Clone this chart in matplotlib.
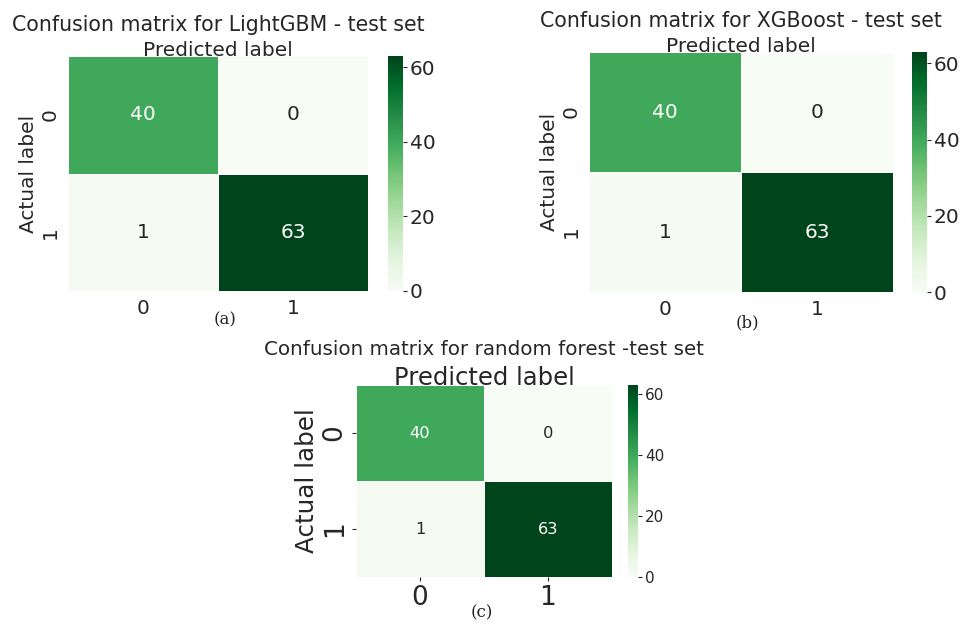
import numpy as np
import matplotlib
matplotlib.use("Agg")
import matplotlib.pyplot as plt
import seaborn as sns

# confusion matrices on the test set (rows: actual, cols: predicted)
class_labels = ["0", "1"]
cm_lightgbm = [[40, 0], [1, 63]]
cm_xgboost = [[40, 0], [1, 63]]
cm_forest = [[40, 0], [1, 63]]

titles = [
    "Confusion matrix for LightGBM - test set",
    "Confusion matrix for XGBoost - test set",
    "Confusion matrix for random forest -test set",
]
panel_tags = ["(a)", "(b)", "(c)"]

W, H = 960, 624
plt.rcParams["text.color"] = "#262626"
plt.rcParams["axes.labelcolor"] = "#262626"
plt.rcParams["xtick.color"] = "#262626"
plt.rcParams["ytick.color"] = "#262626"

fig = plt.figure(figsize=(W / 100, H / 100), dpi=100)


def px_axes(x0, y0, x1, y1):
    # pixel box (top-left origin) -> figure axes
    return fig.add_axes([x0 / W, 1 - y1 / H, (x1 - x0) / W, (y1 - y0) / H])


def draw_cm(cm, title, box, cbox, fs):
    ax = px_axes(*box)
    cax = px_axes(*cbox)
    sns.heatmap(np.array(cm), annot=True, fmt="d", cmap="Greens", vmin=0,
                ax=ax, cbar_ax=cax, linewidths=0.5, linecolor="white",
                xticklabels=class_labels, yticklabels=class_labels,
                annot_kws={"fontsize": fs["annot"]})
    ax.set_xlabel("Predicted label", fontsize=fs["xlabel"], labelpad=fs["labelpad"])
    ax.xaxis.set_label_position("top")
    ax.set_ylabel("Actual label", fontsize=fs["ylabel"], labelpad=2)
    ax.set_title(title, fontsize=fs["title"], y=fs["title_y"], va="center")
    ax.tick_params(axis="both", labelsize=fs["ticks"], length=fs["ticklen"], pad=fs["tickpad"])
    plt.setp(ax.get_yticklabels(), rotation=90, va="center")
    cax.tick_params(labelsize=fs["cbar"], length=3, pad=2)
    cax.set_yticks([0, 20, 40, 60])
    return ax


top_fs = {"annot": 14.5, "xlabel": 14.5, "ylabel": 14.5, "title": 14.8, "ticks": 14.5,
          "cbar": 14.5, "ticklen": 0, "tickpad": 6, "labelpad": 0, "title_y": 1.095}
bottom_fs = {"annot": 11.7, "xlabel": 17.5, "ylabel": 17.7, "title": 14.3, "ticks": 19,
             "cbar": 11, "ticklen": 3, "tickpad": 3, "labelpad": 0, "title_y": 1.14}

draw_cm(cm_lightgbm, titles[0], (68, 56, 368, 291), (388, 56, 403, 291), top_fs)
draw_cm(cm_xgboost, titles[1], (589, 52, 893, 292), (912, 52, 927, 292), top_fs)
draw_cm(cm_forest, titles[2], (356, 385, 612, 577), (628, 385, 638, 577), bottom_fs)

# panel tags under each matrix
tag_pos = [(225, 320), (747, 323), (482, 613)]
for tag, (x, y) in zip(panel_tags, tag_pos):
    fig.text(x / W, 1 - y / H, tag, ha="center", va="center",
             fontsize=12, family="DejaVu Serif", color="#222222")

fig.savefig("out.png", dpi=100)
